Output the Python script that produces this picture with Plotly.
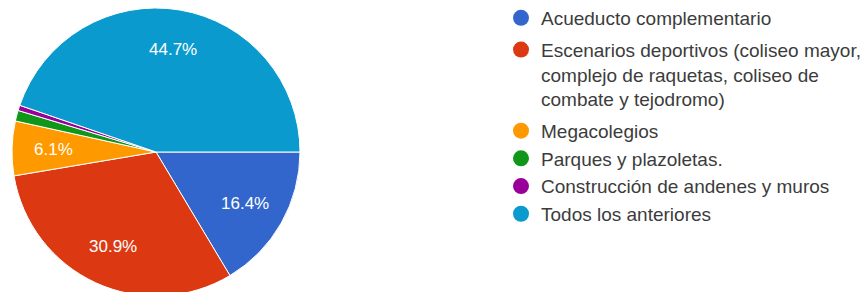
import math
import plotly.graph_objects as go

labels = [
    "Acueducto complementario",
    "Escenarios deportivos (coliseo mayor,<br>complejo de raquetas, coliseo de<br>combate y tejodromo)",
    "Megacolegios",
    "Parques y plazoletas.",
    "Construcción de andenes y muros",
    "Todos los anteriores",
]
values = [16.4, 30.9, 6.1, 1.2, 0.6, 44.7]
colors = ["#3366cc", "#dc3912", "#ff9900", "#109618", "#990099", "#0a9acd"]
legend_groups = ["a", "b", "c", "c", "c", "c"]
min_label_pct = 5.0

W, H = 868, 292
CX, CY, R = 148, 144, 144  # pie centre / radius in figure pixels

fig = go.Figure()
fig.add_trace(go.Pie(
    values=values,
    labels=labels,
    marker=dict(colors=colors, line=dict(color="white", width=1)),
    sort=False,
    direction="clockwise",
    rotation=90,
    textinfo="none",
    showlegend=False,
    domain=dict(x=[(CX - R) / W, (CX + R) / W], y=[1 - (CY + R) / H, 1]),
    hoverinfo="label+percent",
))

# percentage labels placed along each slice bisector, as the reference does
total = sum(values)
cum = 0.0
for v in values:
    frac = v / total
    mid = (cum + frac / 2) * 2 * math.pi
    cum += frac
    if v < min_label_pct:
        continue
    px = CX + 0.71 * R * math.cos(mid)
    py = CY + 0.72 * R * math.sin(mid)
    fig.add_annotation(
        x=px / W, y=1 - py / H, xref="paper", yref="paper",
        xanchor="center", yanchor="middle",
        text=f"{frac * 100:.1f}%", showarrow=False,
        font=dict(color="white", size=17, family="Liberation Sans, Arial"),
    )

for lab, col, grp in zip(labels, colors, legend_groups):
    fig.add_trace(go.Scatter(
        x=[None], y=[None], mode="markers", name=lab, legendgroup=grp,
        marker=dict(color=col, size=16, symbol="circle"),
        showlegend=True,
    ))

fig.update_layout(
    width=W, height=H,
    margin=dict(l=0, r=0, t=0, b=0, autoexpand=False),
    paper_bgcolor="white", plot_bgcolor="white",
    xaxis=dict(visible=False), yaxis=dict(visible=False),
    legend=dict(
        x=493 / W, y=1 + 9 / H, xanchor="left", yanchor="top",
        font=dict(size=19, color="#3c3c3c", family="Liberation Sans, Arial"),
        bgcolor="rgba(0,0,0,0)",
        tracegroupgap=4,
        maxheight=400,
        valign="top",
    ),
    font=dict(family="Liberation Sans, Arial"),
)

fig.write_html("out.html")
